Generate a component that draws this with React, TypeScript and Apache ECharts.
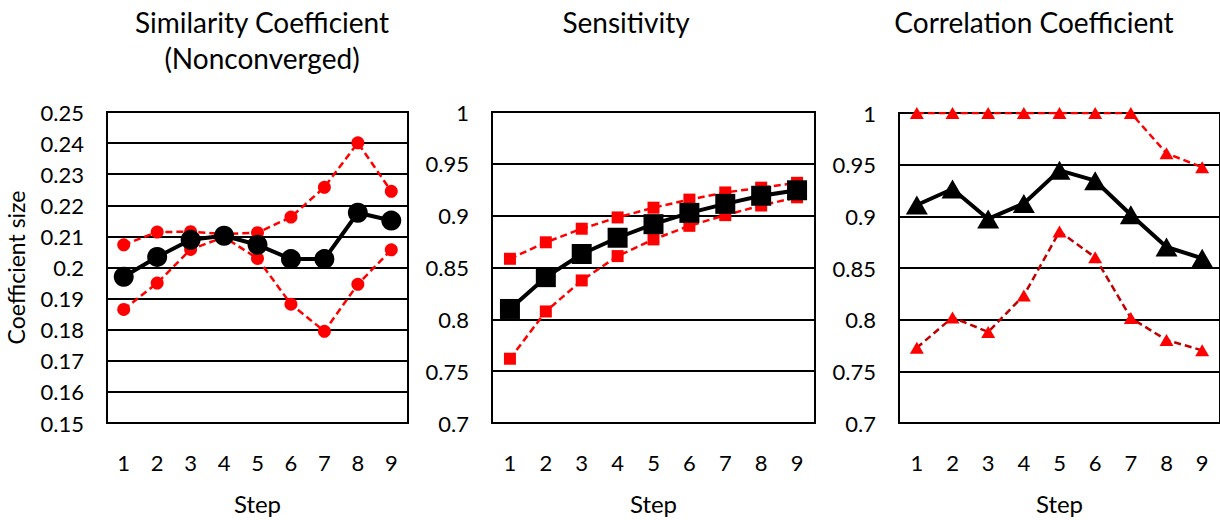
import React, { useEffect, useRef } from "react";
import * as echarts from "echarts";

const steps = ["1", "2", "3", "4", "5", "6", "7", "8", "9"];

const simMean = [0.197, 0.2034, 0.2089, 0.2102, 0.2073, 0.2027, 0.2027, 0.2176, 0.2151];
const simUpper = [0.2073, 0.2114, 0.2115, 0.2108, 0.2112, 0.2162, 0.2258, 0.2401, 0.2245];
const simLower = [0.1865, 0.195, 0.2058, 0.2098, 0.2029, 0.1882, 0.1795, 0.1946, 0.2057];

const sensMean = [0.81, 0.8407, 0.863, 0.8787, 0.8918, 0.9027, 0.9114, 0.9192, 0.9245];
const sensUpper = [0.8584, 0.8743, 0.8874, 0.8983, 0.9077, 0.9155, 0.9224, 0.927, 0.9317];
const sensLower = [0.762, 0.8076, 0.8375, 0.861, 0.8771, 0.8902, 0.9005, 0.9098, 0.9177];

const corrMean = [0.911, 0.9265, 0.8975, 0.9125, 0.9445, 0.9345, 0.9016, 0.8703, 0.8594];
const corrUpper = [1, 1, 1, 1, 1, 1, 1, 0.961, 0.9475];
const corrLower = [0.7728, 0.8022, 0.7881, 0.8234, 0.8853, 0.8603, 0.8016, 0.7803, 0.7703];

const titles = ["Similarity Coefficient\n(Nonconverged)", "Sensitivity", "Correlation Coefficient"];
const FONT = "Lato";

export default function App() {
  const ref = useRef<HTMLDivElement>(null);
  useEffect(() => {
    const chart = echarts.init(ref.current!, null, { renderer: "svg" });
    const grids = [
      { left: 107, top: 112, width: 301, height: 321 },
      { left: 492, top: 112, width: 323, height: 321 },
      { left: 899, top: 113, width: 322, height: 320 },
    ];
    const yRanges = [
      { min: 0.15, max: 0.25, interval: 0.01 },
      { min: 0.7, max: 1, interval: 0.05 },
      { min: 0.7, max: 1, interval: 0.05 },
    ];
    const symbols = ["circle", "rect", "triangle"];
    const bigSizes: any[] = [20, 20, [22, 19]];
    const smallSizes: any[] = [13, 12, [14, 12]];
    const data = [
      [simMean, simUpper, simLower],
      [sensMean, sensUpper, sensLower],
      [corrMean, corrUpper, corrLower],
    ];
    const lowerLineColors = ["#FF0000", "#FF0000", "#C00000"];
    const series: any[] = [];
    data.forEach((d, i) => {
      const [mean, up, low] = d;
      const mk = (vals: number[], lineColor: string, z: number) => ({
        type: "line",
        xAxisIndex: i,
        yAxisIndex: i,
        data: vals,
        symbol: symbols[i],
        symbolSize: smallSizes[i],
        itemStyle: { color: "#FF0000" },
        lineStyle: { color: lineColor, width: 2.5, type: [7, 4] },
        z,
      });
      series.push(mk(up, "#FF0000", 2));
      series.push(mk(low, lowerLineColors[i], 2));
      series.push({
        type: "line",
        xAxisIndex: i,
        yAxisIndex: i,
        data: mean,
        symbol: symbols[i],
        symbolSize: bigSizes[i],
        itemStyle: { color: "#000000" },
        lineStyle: { color: "#000000", width: 4 },
        z: 3,
      });
    });
    const titleCenters = [262, 626, 1034];
    chart.setOption({
      animation: false,
      title: titles.map((t, i) => ({
        text: t,
        left: titleCenters[i],
        top: 4,
        padding: 0,
        textAlign: "center",
        textStyle: {
          fontFamily: FONT,
          fontSize: 28,
          fontWeight: "normal",
          color: "#000",
          lineHeight: 36,
        },
      })),
      grid: grids.map((g) => ({
        ...g,
        show: true,
        borderColor: "#000",
        borderWidth: 2,
        backgroundColor: "transparent",
      })),
      xAxis: grids.map((_, i) => ({
        type: "category",
        gridIndex: i,
        data: steps,
        boundaryGap: true,
        axisTick: { show: false },
        axisLine: { show: true, lineStyle: { color: "#000", width: 2 } },
        axisLabel: { fontFamily: FONT, fontSize: 22, color: "#000", margin: 28 },
        name: "Step",
        nameLocation: "middle",
        nameGap: 68,
        nameTextStyle: { fontFamily: FONT, fontSize: 24, color: "#000" },
        splitLine: { show: false },
      })),
      yAxis: grids.map((_, i) => ({
        type: "value",
        gridIndex: i,
        ...yRanges[i],
        axisTick: { show: false },
        axisLine: { show: true, lineStyle: { color: "#000", width: 2 } },
        axisLabel: {
          fontFamily: FONT,
          fontSize: 22,
          color: "#000",
          margin: 23,
          formatter: (v: number) => String(parseFloat(v.toFixed(2))),
        },
        splitLine: { show: true, lineStyle: { color: "#000", width: 2 } },
        name: i === 0 ? "Coefficient size" : "",
        nameLocation: "middle",
        nameGap: 80,
        nameTextStyle: { fontFamily: FONT, fontSize: 23, color: "#000" },
      })),
      series,
    });
    return () => chart.dispose();
  }, []);
  return (
    <div
      ref={ref}
      style={{ position: "fixed", left: 0, top: 0, width: 1220, height: 520, background: "#fff" }}
    />
  );
}
